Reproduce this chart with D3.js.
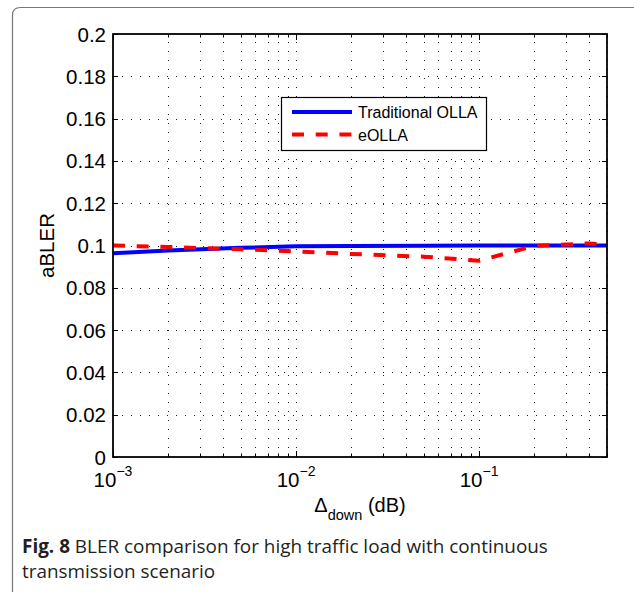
<!DOCTYPE html>
<html>
<head>
<meta charset="utf-8">
<script src="https://cdn.jsdelivr.net/npm/d3@7"></script>
<style>
  body { margin: 0; background: #fff; }
  svg { display: block; }
</style>
</head>
<body>
<script>
// values
const deltaDown = [0.001, 0.002, 0.005, 0.01, 0.02, 0.05, 0.1, 0.2, 0.4, 0.5]
const tradOlla = [0.0963, 0.0976, 0.0989, 0.0996, 0.0998, 0.0999, 0.1, 0.1, 0.1, 0.1]
const eOlla = [0.1, 0.0993, 0.0982, 0.0972, 0.0960, 0.0947, 0.0928, 0.0998, 0.1010, 0.1003]
const yTicks = [0, 0.02, 0.04, 0.06, 0.08, 0.1, 0.12, 0.14, 0.16, 0.18, 0.2]
const xMajor = [0.001, 0.01, 0.1]
const xExp = ["\u22123", "\u22122", "\u22121"]
const seriesNames = ["Traditional OLLA", "eOLLA"]

const W = 634, H = 592
const plotL = 113, plotR = 607, plotT = 34, plotB = 457

let svg = d3.select("body").append("svg")
  .attr("width", W)
  .attr("height", H)

// frame round the figure (rounded top left corner, runs off the right edge)
svg.append("path")
  .attr("d", "M12.5," + H + " V15 Q12.5,7.5 20.5,7.5 H" + W)
  .attr("fill", "none")
  .attr("stroke", "#777")
  .attr("stroke-width", 1.2)

let x = d3.scaleLog().domain([0.001, 0.5]).range([plotL, plotR])
let y = d3.scaleLinear().domain([0, 0.2]).range([plotB, plotT])

// minor positions for the log grid
let xMinor = []
xMajor.forEach(m => { for (let k = 1; k < 10; k++) if (m * k <= 0.5) xMinor.push(m * k) })

let g = svg.append("g")

// dotted grid
g.selectAll(".vgrid").data(xMinor.filter(v => v > 0.001)).enter().append("line")
  .attr("x1", d => Math.round(x(d)) + 0.5).attr("x2", d => Math.round(x(d)) + 0.5)
  .attr("y1", plotB).attr("y2", plotT)
  .attr("stroke", "#222").attr("stroke-width", 1)
  .attr("stroke-dasharray", "1,8")

g.selectAll(".hgrid").data(yTicks.slice(1, -1)).enter().append("line")
  .attr("x1", plotL).attr("x2", plotR)
  .attr("y1", d => Math.round(y(d)) + 0.5).attr("y2", d => Math.round(y(d)) + 0.5)
  .attr("stroke", "#222").attr("stroke-width", 1)
  .attr("stroke-dasharray", "1,8")

// inward ticks on all four sides
xMinor.forEach(v => {
  let len = xMajor.includes(v) ? 6 : 3.5
  let px = Math.round(x(v)) + 0.5
  g.append("line").attr("x1", px).attr("x2", px).attr("y1", plotB).attr("y2", plotB - len).attr("stroke", "#000")
  g.append("line").attr("x1", px).attr("x2", px).attr("y1", plotT).attr("y2", plotT + len).attr("stroke", "#000")
})
yTicks.forEach(v => {
  let py = Math.round(y(v)) + 0.5
  g.append("line").attr("x1", plotL).attr("x2", plotL + 5).attr("y1", py).attr("y2", py).attr("stroke", "#000")
  g.append("line").attr("x1", plotR).attr("x2", plotR - 5).attr("y1", py).attr("y2", py).attr("stroke", "#000")
})

// series
let line = d3.line()
  .x((d, i) => x(deltaDown[i]))
  .y(d => y(d))

g.append("path")
  .datum(tradOlla)
  .attr("fill", "none")
  .attr("stroke", "#0000ff")
  .attr("stroke-width", 4)
  .attr("d", line)

g.append("path")
  .datum(eOlla)
  .attr("fill", "none")
  .attr("stroke", "#ff0000")
  .attr("stroke-width", 4)
  .attr("stroke-dasharray", "12,11.7")
  .attr("d", line)

// axes box
g.append("rect")
  .attr("x", plotL).attr("y", plotT)
  .attr("width", plotR - plotL).attr("height", plotB - plotT)
  .attr("fill", "none")
  .attr("stroke", "#000")
  .attr("stroke-width", 1.8)

const axisFont = "'Liberation Sans', Arial, Helvetica, sans-serif"

// y tick labels
svg.selectAll(".ylab").data(yTicks).enter().append("text")
  .attr("x", 106)
  .attr("y", d => y(d) + 7.5)
  .attr("text-anchor", "end")
  .attr("font-family", axisFont)
  .attr("font-size", 20.5)
  .text(d => String(+d.toFixed(2)))

// x tick labels 10^n
xMajor.forEach((v, i) => {
  let t = svg.append("text")
    .attr("x", x(v))
    .attr("y", 487)
    .attr("text-anchor", "middle")
    .attr("font-family", axisFont)
    .attr("font-size", 20.5)
  t.append("tspan").text("10")
  t.append("tspan").attr("dy", -11).attr("font-size", 14).text(xExp[i])
})

// axis titles
let xl = svg.append("text")
  .attr("x", (plotL + plotR) / 2)
  .attr("y", 512)
  .attr("text-anchor", "middle")
  .attr("font-family", axisFont)
  .attr("font-size", 20)
xl.append("tspan").text("\u0394")
xl.append("tspan").attr("dy", 8).attr("font-size", 14.5).text("down")
xl.append("tspan").attr("dy", -8).text(" (dB)")

svg.append("text")
  .attr("transform", "translate(54," + ((plotT + plotB) / 2) + ") rotate(-90)")
  .attr("text-anchor", "middle")
  .attr("font-family", axisFont)
  .attr("font-size", 20.5)
  .text("aBLER")

// legend
let lg = svg.append("g")
lg.append("rect")
  .attr("x", 281.5).attr("y", 97.5)
  .attr("width", 205).attr("height", 53)
  .attr("fill", "#fff")
  .attr("stroke", "#000")
  .attr("stroke-width", 1.2)

const legendColors = ["#0000ff", "#ff0000"]
seriesNames.forEach((name, i) => {
  let ly = 112 + i * 22.5
  lg.append("line")
    .attr("x1", 292).attr("x2", 352)
    .attr("y1", ly).attr("y2", ly)
    .attr("stroke", legendColors[i])
    .attr("stroke-width", 4)
    .attr("stroke-dasharray", i == 1 ? "12,11.7" : null)
  lg.append("text")
    .attr("x", 358)
    .attr("y", ly + 6)
    .attr("font-family", axisFont)
    .attr("font-size", 16)
    .text(name)
})

// caption
const capFont = "'Open Sans', 'Noto Sans', sans-serif"
let cap1 = svg.append("text")
  .attr("x", 22).attr("y", 553)
  .attr("font-family", capFont)
  .attr("font-size", 18)
  .attr("fill", "#231f20")
cap1.append("tspan").attr("font-weight", "bold").text("Fig. 8")
cap1.append("tspan").text(" BLER comparison for high traffic load with continuous")

let cap2 = svg.append("text")
  .attr("x", 22).attr("y", 578)
  .attr("font-family", capFont)
  .attr("font-size", 18)
  .attr("fill", "#231f20")
  .text("transmission scenario")

// shrink caption to the width it has in the figure
let w1 = cap1.node().getComputedTextLength()
let fs = 18 * 526 / w1
cap1.attr("font-size", fs)
cap2.attr("font-size", fs)
</script>
</body>
</html>
